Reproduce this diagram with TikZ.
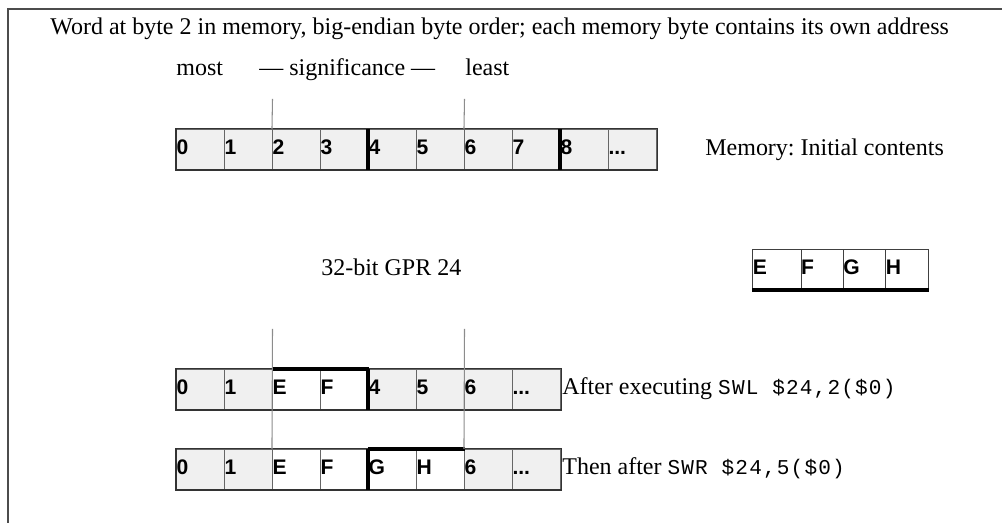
\documentclass[tikz,border=0pt]{standalone}
\usepackage{fontspec}
\setmainfont{Liberation Serif}
\setsansfont{Liberation Sans}[BoldFont={Liberation Sans Bold}]
\setmonofont{Liberation Mono}[LetterSpace=5.5]
\usepackage{tikz}
\usetikzlibrary{positioning}

\tikzset{
  octet/.style={draw=black!60, fill=gray!12, line width=0.6pt, minimum height=0.8cm,
    text width=0.96cm, inner xsep=0pt, inner ysep=0pt, align=left,
    text height=8.2pt, text depth=3pt, font=\fontsize{12}{14}\selectfont\sffamily\bfseries},
  vide/.style={octet, fill=white},
  texte/.style={inner sep=0pt, font=\fontsize{13.65}{16}\selectfont},
  epais/.style={line width=2.2pt, line cap=butt},
  repere/.style={draw=black!45, line width=0.6pt},
  contour/.style={draw=black!80, line width=0.6pt}
}

\begin{document}
\frenchspacing
\begin{tikzpicture}
  \useasboundingbox (0,0) rectangle (20.04,10.46);
  % Cadre
  \draw[black!70, line width=0.8pt] (0.16,0) -- (0.16,10.28) -- (20.04,10.28);
  % Titre
  \node[texte, anchor=base west] (titre) at (1.0,9.76) {Word at byte 2 in memory, big-endian byte order; each memory byte contains its own address};
  \node[texte, anchor=base west] (most) at (3.52,8.94) {most};
  \node[texte, anchor=base west] (signif) at (5.18,8.94) {--- significance ---};
  \node[texte, anchor=base west] (least) at (9.3,8.94) {least};
  % Memoire : contenu initial
  \node[octet] (m0) at (4.01,7.47) {0};
  \node[octet] (m1) at (4.97,7.47) {1};
  \node[octet] (m2) at (5.93,7.47) {2};
  \node[octet] (m3) at (6.89,7.47) {3};
  \node[octet] (m4) at (7.85,7.47) {4};
  \node[octet] (m5) at (8.81,7.47) {5};
  \node[octet] (m6) at (9.77,7.47) {6};
  \node[octet] (m7) at (10.73,7.47) {7};
  \node[octet] (m8) at (11.69,7.47) {8};
  \node[octet] (m9) at (12.65,7.47) {...};
  \draw[contour] (m0.north west) rectangle (m9.south east);
  \draw[epais] (m4.north west) -- (m4.south west);
  \draw[epais] (m8.north west) -- (m8.south west);
  \node[texte, anchor=base west] (initial) at (14.1,7.34) {Memory: Initial contents};
  % Reperes de significance
  \coordinate (hautA) at (5.45,8.48);
  \coordinate (hautB) at (9.29,8.48);
  \draw[repere] (hautA) -- (m2.north west);
  \draw[repere] (hautB) -- (m6.north west);
  % Registre GPR 24
  \node[texte, anchor=base west] (gpr) at (6.42,4.95) {32-bit GPR 24};
  \node[vide, draw=black!75, text width=0.966cm, minimum height=0.81cm] (r0) at (15.54,5.07) {E};
  \node[vide, draw=black!75, text width=0.846cm, minimum height=0.81cm] (r1) at (16.446,5.07) {F};
  \node[vide, draw=black!75, text width=0.846cm, minimum height=0.81cm] (r2) at (17.292,5.07) {G};
  \node[vide, draw=black!75, text width=0.846cm, minimum height=0.81cm] (r3) at (18.138,5.07) {H};
  \draw[epais] (r0.south west) -- (r3.south east);
  % Apres SWL
  \node[octet] (a0) at (4.01,2.67) {0};
  \node[octet] (a1) at (4.97,2.67) {1};
  \node[vide] (a2) at (5.93,2.67) {E};
  \node[vide] (a3) at (6.89,2.67) {F};
  \node[octet] (a4) at (7.85,2.67) {4};
  \node[octet] (a5) at (8.81,2.67) {5};
  \node[octet] (a6) at (9.77,2.67) {6};
  \node[octet] (a7) at (10.73,2.67) {...};
  \draw[contour] (a0.north west) rectangle (a7.south east);
  \draw[epais] (a2.north west) -- (a3.north east);
  \draw[epais] (a4.north west) -- (a4.south west);
  \node[texte, anchor=base west] (apres) at (11.24,2.56) {After executing {\fontsize{12}{14}\selectfont\ttfamily SWL \$24,2(\$0)}};
  % Puis apres SWR
  \node[octet] (b0) at (4.01,1.07) {0};
  \node[octet] (b1) at (4.97,1.07) {1};
  \node[vide] (b2) at (5.93,1.07) {E};
  \node[vide] (b3) at (6.89,1.07) {F};
  \node[vide] (b4) at (7.85,1.07) {G};
  \node[vide] (b5) at (8.81,1.07) {H};
  \node[octet] (b6) at (9.77,1.07) {6};
  \node[octet] (b7) at (10.73,1.07) {...};
  \draw[contour] (b0.north west) rectangle (b7.south east);
  \draw[epais] (b4.north west) -- (b5.north east);
  \draw[epais] (b4.north west) -- (b4.south west);
  \node[texte, anchor=base west] (ensuite) at (11.24,0.96) {Then after {\fontsize{12}{14}\selectfont\ttfamily SWR \$24,5(\$0)}};
  % Reperes au milieu
  \coordinate (milA) at (5.45,3.88);
  \coordinate (milB) at (9.29,3.88);
  \draw[repere] (milA) -- (b2.north west);
  \draw[repere] (milB) -- (b6.north west);
\end{tikzpicture}
\end{document}
